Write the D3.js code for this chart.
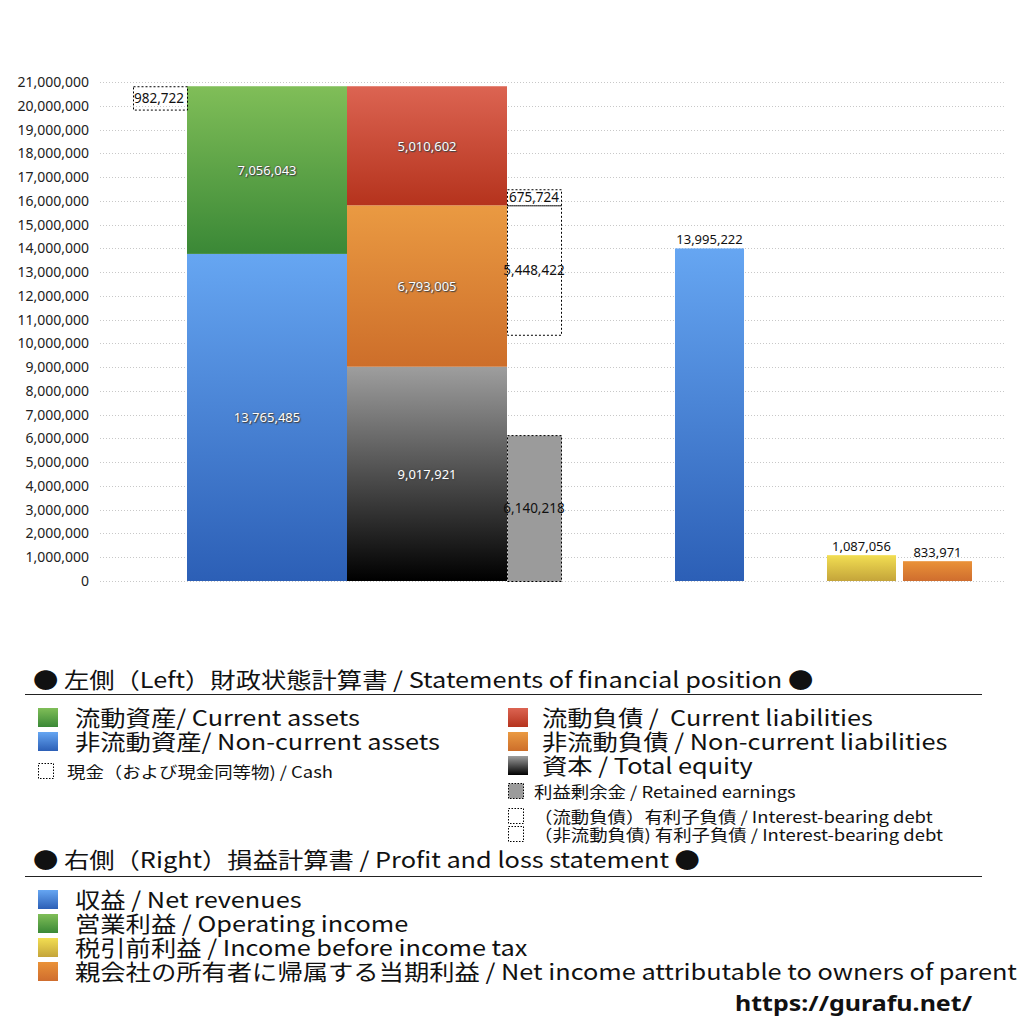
<!DOCTYPE html>
<html>
<head>
<meta charset="utf-8">
<script src="https://cdn.jsdelivr.net/npm/d3@7"></script>
<style>
  body { margin: 0; background: #fff; }
  svg { font-family: "Noto Sans CJK JP", "Noto Sans", sans-serif; }
  .tick text { font-size: 14px; fill: #222; }
  .inLabel { font-size: 13px; fill: #fff; text-anchor: middle; text-shadow: 0 0 2px #444, 1px 1px 1px #444; }
  .boxLabel { font-size: 13.5px; fill: #111; }
  .topLabel { font-size: 13px; fill: #111; text-anchor: middle; }
  .lg { white-space: pre; }
</style>
</head>
<body>
<div class="chart"></div>
<script>
// balance sheet (left side)
var assetNames = ["非流動資産", "流動資産"];
var assetValues = [13765485, 7056043];
var liabNames = ["資本", "非流動負債", "流動負債"];
var liabValues = [9017921, 6793005, 5010602];
var cashValue = 982722;
var debtNames = ["(流動負債) 有利子負債", "(非流動負債) 有利子負債"];
var debtValues = [675724, 5448422];
var retainedValue = 6140218;

// profit and loss (right side); operating income has no bar in the picture
var plNames = ["収益", "営業利益", "税引前利益", "親会社の所有者に帰属する当期利益"];
var plValues = [13995222, null, 1087056, 833971];

var yTicks = d3.range(0, 21000001, 1000000);

var legendLeft = [
  { key: "green", text: "流動資産/ Current assets" },
  { key: "blue", text: "非流動資産/ Non-current assets" }
];
var legendRight = [
  { key: "red", text: "流動負債 /  Current liabilities" },
  { key: "orange", text: "非流動負債 / Non-current liabilities" },
  { key: "black", text: "資本 / Total equity" }
];
var legendPL = [
  { key: "blue", text: "収益 / Net revenues" },
  { key: "green", text: "営業利益 / Operating income" },
  { key: "yellow", text: "税引前利益 / Income before income tax" },
  { key: "orange2", text: "親会社の所有者に帰属する当期利益 / Net income attributable to owners of parent" }
];

var gradients = {
  green: ["#80be58", "#3a8836"],
  blue: ["#66a6f2", "#2c5fb6"],
  red: ["#dc6452", "#b5331d"],
  orange: ["#ea9a42", "#cd6e2a"],
  black: ["#9e9e9e", "#000000"],
  yellow: ["#f2de52", "#c4a43a"],
  orange2: ["#ea9238", "#cf6d2e"]
};

var fmt = d3.format(",");

var svg = d3.select(".chart").append("svg")
  .attr("width", 1024)
  .attr("height", 1024);

var defs = svg.append("defs");
Object.keys(gradients).forEach(function(k) {
  var g = defs.append("linearGradient")
    .attr("id", "g-" + k)
    .attr("x1", 0).attr("y1", 0).attr("x2", 0).attr("y2", 1);
  g.append("stop").attr("offset", "0%").attr("stop-color", gradients[k][0]);
  g.append("stop").attr("offset", "100%").attr("stop-color", gradients[k][1]);
});

var y = d3.scaleLinear().domain([0, 21000000]).range([581, 82]);

// gridlines
svg.append("g").selectAll("line")
  .data(yTicks)
  .enter()
  .append("line")
  .attr("x1", 100).attr("x2", 1005)
  .attr("y1", d => Math.round(y(d)) + 0.5)
  .attr("y2", d => Math.round(y(d)) + 0.5)
  .attr("stroke", "#c8c8c8")
  .attr("stroke-dasharray", "1,2");

var yAxis = d3.axisLeft(y).tickValues(yTicks).tickFormat(fmt).tickSize(0).tickPadding(0);
svg.append("g")
  .attr("transform", "translate(89,0)")
  .call(yAxis)
  .call(g => g.select(".domain").remove())
  .selectAll("text").attr("font-family", "Noto Sans, sans-serif");

// left columns
var xCol = d3.scaleBand().domain(["assets", "liabilities"]).range([187, 507]).padding(0);
var sideW = 54;

function stackOf(values) {
  var acc = 0;
  return values.map(function(v) { var s = { y0: acc, y1: acc + v, v: v }; acc += v; return s; });
}

function drawStack(col, values, keys) {
  var st = stackOf(values);
  svg.append("g").selectAll("rect")
    .data(st)
    .enter()
    .append("rect")
    .attr("x", xCol(col))
    .attr("width", xCol.bandwidth())
    .attr("y", d => y(d.y1))
    .attr("height", d => y(d.y0) - y(d.y1))
    .attr("fill", (d, i) => "url(#g-" + keys[i] + ")");
  svg.append("g").selectAll("text")
    .data(st)
    .enter()
    .append("text")
    .attr("class", "inLabel")
    .attr("font-family", "Noto Sans, sans-serif")
    .attr("x", xCol(col) + xCol.bandwidth() / 2)
    .attr("y", d => y((d.y0 + d.y1) / 2) + 5)
    .text(d => fmt(d.v));
}

drawStack("assets", assetValues, ["blue", "green"]);
drawStack("liabilities", liabValues, ["black", "orange", "red"]);

function dashedBox(x, top, bottom, fill) {
  svg.append("rect")
    .attr("x", x + 0.5)
    .attr("y", y(top) + 0.5)
    .attr("width", sideW)
    .attr("height", y(bottom) - y(top))
    .attr("fill", fill)
    .attr("stroke", "#000")
    .attr("stroke-dasharray", "2,2");
}
function boxText(x, anchor, v, yv) {
  svg.append("text")
    .attr("class", "boxLabel")
    .attr("font-family", "Noto Sans, sans-serif")
    .attr("text-anchor", anchor)
    .attr("x", x)
    .attr("y", y(yv) + 5)
    .text(fmt(v));
}

// cash box hangs from the top of assets
var totalAssets = d3.sum(assetValues);
var cashX = xCol("assets") - sideW;
dashedBox(cashX, totalAssets, totalAssets - cashValue, "none");
boxText(cashX + 1, "start", cashValue, totalAssets - cashValue / 2);

// retained earnings box
var sideX = xCol("liabilities") + xCol.bandwidth();
dashedBox(sideX, retainedValue, 0, "#9b9b9b");
boxText(sideX + sideW / 2, "middle", retainedValue, retainedValue / 2);

// interest-bearing debt boxes around the current/non-current boundary
var boundary = liabValues[0] + liabValues[1];
dashedBox(sideX, boundary + debtValues[0], boundary, "none");
boxText(sideX + sideW / 2, "middle", debtValues[0], boundary + debtValues[0] / 2);
dashedBox(sideX, boundary, boundary - debtValues[1], "none");
boxText(sideX + sideW / 2, "middle", debtValues[1], boundary - debtValues[1] / 2);

// profit and loss bars
var xPL = d3.scaleBand().domain(plNames).range([675, 972]).paddingInner(0.092).paddingOuter(0);
var plKeys = ["blue", "green", "yellow", "orange2"];
var plData = plNames.map((n, i) => ({ name: n, v: plValues[i], key: plKeys[i] })).filter(d => d.v != null);

svg.append("g").selectAll("rect")
  .data(plData)
  .enter()
  .append("rect")
  .attr("x", d => xPL(d.name))
  .attr("width", xPL.bandwidth())
  .attr("y", d => y(d.v))
  .attr("height", d => y(0) - y(d.v))
  .attr("fill", d => "url(#g-" + d.key + ")");

svg.append("g").selectAll("text")
  .data(plData)
  .enter()
  .append("text")
  .attr("class", "topLabel")
  .attr("font-family", "Noto Sans, sans-serif")
  .attr("x", d => xPL(d.name) + xPL.bandwidth() / 2)
  .attr("y", d => y(d.v) - 4)
  .text(d => fmt(d.v));

// legend; the original font is wider, so stretch each line a little
var lg = svg.append("g").attr("fill", "#111");
var stretch = 1.15;

function item(x, yPos, text, size) {
  var t = lg.append("text").attr("class", "lg").attr("x", x).attr("y", yPos).attr("font-size", size).text(text);
  var w = t.node().getComputedTextLength();
  t.attr("textLength", w * stretch).attr("lengthAdjust", "spacingAndGlyphs");
  return t;
}
function swatch(x, yPos, key) {
  lg.append("rect").attr("x", x).attr("y", yPos - 18).attr("width", 20).attr("height", 19)
    .attr("fill", "url(#g-" + key + ")");
}
function dashed(x, yPos, fill) {
  lg.append("rect").attr("x", x + 0.5).attr("y", yPos - 14.5).attr("width", 15).attr("height", 15)
    .attr("fill", fill || "none").attr("stroke", "#000").attr("stroke-dasharray", "1.5,1.5");
}

item(33, 688, "● 左側（Left）財政状態計算書 / Statements of financial position ●", 22);
lg.append("line").attr("x1", 25).attr("x2", 982).attr("y1", 694.5).attr("y2", 694.5).attr("stroke", "#222");

legendLeft.forEach(function(d, i) {
  swatch(38, 726 + i * 24, d.key);
  item(75, 726 + i * 24, d.text, 22);
});
dashed(38, 778);
item(67, 778, "現金（および現金同等物) / Cash", 16);

legendRight.forEach(function(d, i) {
  swatch(508, 726 + i * 24, d.key);
  item(542, 726 + i * 24, d.text, 22);
});
dashed(508, 798, "#9b9b9b");
item(534, 798, "利益剰余金 / Retained earnings", 16);
dashed(508, 823);
item(534, 823, "（流動負債）有利子負債 / Interest-bearing debt", 16);
dashed(508, 841);
item(534, 841, "（非流動負債) 有利子負債 / Interest-bearing debt", 16);

item(33, 868, "● 右側（Right）損益計算書 / Profit and loss statement ●", 22);
lg.append("line").attr("x1", 25).attr("x2", 982).attr("y1", 876.5).attr("y2", 876.5).attr("stroke", "#222");

legendPL.forEach(function(d, i) {
  swatch(38, 908 + i * 24, d.key);
  item(75, 908 + i * 24, d.text, 22);
});

lg.append("text").attr("x", 735).attr("y", 1011)
  .attr("font-size", 22).attr("font-weight", "bold").attr("font-family", "Noto Sans, sans-serif")
  .attr("textLength", 237).attr("lengthAdjust", "spacingAndGlyphs")
  .text("https://gurafu.net/");
</script>
</body>
</html>
